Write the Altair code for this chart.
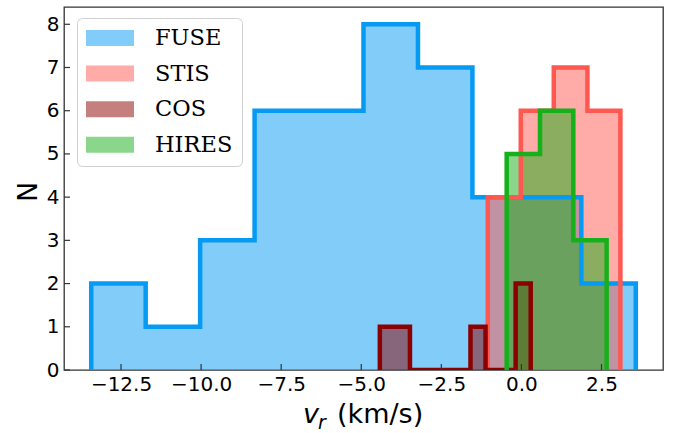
import altair as alt
import pandas as pd

# ---------------- data ----------------
series_names = ["FUSE", "STIS", "COS", "HIRES"]
series_colors = ["#069AF3", "#FF5850", "#8B0000", "#15B01A"]

fuse_edges = [-13.43, -11.73, -10.03, -8.33, -6.63, -4.93, -3.23, -1.53, 0.17, 1.87, 3.57]
fuse_counts = [2, 1, 3, 6, 6, 8, 7, 4, 4, 2]

stis_edges = [-1.05, -0.02, 1.01, 2.06, 3.09]
stis_counts = [4, 6, 7, 6]

cos_edges = [-4.42, -3.95, -3.48, -3.01, -2.54, -2.07, -1.59, -1.12, -0.65, -0.18, 0.29]
cos_counts = [1, 1, 0, 0, 0, 0, 1, 0, 0, 2]

hires_edges = [-0.46, 0.58, 1.62, 2.66]
hires_counts = [5, 6, 3]

x_ticks = [-12.5, -10.0, -7.5, -5.0, -2.5, 0.0, 2.5]
y_ticks = [0, 1, 2, 3, 4, 5, 6, 7, 8]
x_domain = [-14.28, 4.42]
y_domain = [0, 8.4]

x_title_parts = ["v", "r", "(km/s)"]
y_title = "N"

hists = {
    "FUSE": (fuse_edges, fuse_counts),
    "STIS": (stis_edges, stis_counts),
    "COS": (cos_edges, cos_counts),
    "HIRES": (hires_edges, hires_counts),
}

W, H = 599, 363


def fill_frame(name, edges, counts):
    xs = list(edges[:-1]) + [edges[-1]]
    ys = list(counts) + [counts[-1]]
    return pd.DataFrame({"series": name, "x": xs, "y": ys})


def outline_frame(name, edges, counts):
    pts = [(edges[0], 0)]
    for i, c in enumerate(counts):
        pts.append((edges[i], c))
        pts.append((edges[i + 1], c))
    pts.append((edges[-1], 0))
    return pd.DataFrame({
        "series": name,
        "x": [p[0] for p in pts],
        "y": [p[1] for p in pts],
        "k": list(range(len(pts))),
    })


xscale = alt.Scale(domain=x_domain, nice=False, zero=False)
yscale = alt.Scale(domain=y_domain, nice=False, zero=False)
fill_scale = alt.Scale(domain=series_names, range=series_colors)

x_axis = alt.Axis(values=x_ticks, format=".1f", title=None, labelFontSize=20,
                  labelFont="DejaVu Sans", labelColor="black", labelPadding=4,
                  ticks=False, domain=False, grid=False, labelFlush=False)
y_axis = alt.Axis(values=y_ticks, format="d", title=y_title, labelFontSize=20,
                  labelFont="DejaVu Sans", labelColor="black", labelPadding=5,
                  ticks=False, domain=False, grid=False,
                  titleFont="DejaVu Sans", titleFontSize=27, titleFontWeight="normal",
                  titleColor="black", titlePadding=4, titleY=184.5)

legend = alt.Legend(
    title=None, orient="none", legendX=13, legendY=11,
    symbolType="M-1,-0.333H1V0.333H-1Z", symbolSize=2304,
    symbolOpacity=0.5, symbolStrokeWidth=0,
    labelFont="DejaVu Serif", labelFontSize=22.5, labelColor="black",
    labelOffset=21, clipHeight=22, rowPadding=12.6, padding=9,
    fillColor="white", strokeColor="#d0d0d0", cornerRadius=5,
)

layers = []
for name in series_names:
    edges, counts = hists[name]
    layers.append(
        alt.Chart(fill_frame(name, edges, counts))
        .mark_area(interpolate="step-after", fillOpacity=0.5, strokeWidth=0)
        .encode(
            x=alt.X("x:Q", scale=xscale, axis=x_axis),
            y=alt.Y("y:Q", scale=yscale, axis=y_axis),
            fill=alt.Fill("series:N", scale=fill_scale, legend=legend),
        )
    )

for name, color in zip(series_names, series_colors):
    edges, counts = hists[name]
    layers.append(
        alt.Chart(outline_frame(name, edges, counts))
        .mark_line(strokeWidth=4.5, strokeJoin="miter", strokeCap="butt", clip=True, color=color)
        .encode(
            x=alt.X("x:Q", scale=xscale, axis=x_axis),
            y=alt.Y("y:Q", scale=yscale, axis=y_axis),
            order="k:Q",
        )
    )

# inward ticks
tick_color = "#333333"
layers.append(
    alt.Chart(pd.DataFrame({"t": x_ticks}))
    .mark_rule(color=tick_color, strokeWidth=1.2)
    .encode(x=alt.X("t:Q", scale=xscale, axis=x_axis), y=alt.value(H), y2=alt.value(H - 6))
)
layers.append(
    alt.Chart(pd.DataFrame({"t": y_ticks}))
    .mark_rule(color=tick_color, strokeWidth=1.2)
    .encode(y=alt.Y("t:Q", scale=yscale, axis=y_axis), x=alt.value(0), x2=alt.value(6))
)

# x-axis title: italic v with subscript r, then (km/s)
layers.append(
    alt.Chart(pd.DataFrame({"s": [x_title_parts[0]]}))
    .mark_text(font="DejaVu Sans", fontStyle="italic", fontSize=27, align="left",
               baseline="alphabetic", color="black")
    .encode(text="s:N", x=alt.value(239), y=alt.value(416))
)
layers.append(
    alt.Chart(pd.DataFrame({"s": [x_title_parts[1]]}))
    .mark_text(font="DejaVu Sans", fontStyle="italic", fontSize=19, align="left",
               baseline="alphabetic", color="black")
    .encode(text="s:N", x=alt.value(254), y=alt.value(422))
)
layers.append(
    alt.Chart(pd.DataFrame({"s": [x_title_parts[2]]}))
    .mark_text(font="DejaVu Sans", fontSize=27, align="left",
               baseline="alphabetic", color="black")
    .encode(text="s:N", x=alt.value(273), y=alt.value(416))
)

chart = (
    alt.layer(*layers)
    .properties(
        width=W, height=H,
        autosize=alt.AutoSizeParams(type="none"),
        padding={"left": 64, "top": 7, "right": 10, "bottom": 63},
        background="white",
    )
    .configure_view(stroke="#333333", strokeWidth=1.3)
)

chart.save("out.html", embed_options={"renderer": "svg", "actions": False})
